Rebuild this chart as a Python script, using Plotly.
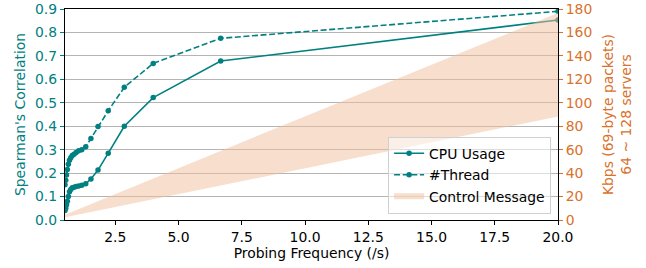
import plotly.graph_objects as go

# Probing frequency (/s)
freq = [20.0, 6.667, 4.0, 2.857, 2.222, 1.818, 1.538, 1.333, 1.176, 1.053,
        0.952, 0.870, 0.800, 0.741, 0.690, 0.645, 0.606, 0.571, 0.541, 0.513]
# Spearman's correlation
cpu_usage = [0.853, 0.678, 0.522, 0.400, 0.285, 0.213, 0.175, 0.155, 0.148, 0.145,
             0.143, 0.140, 0.138, 0.130, 0.120, 0.100, 0.080, 0.065, 0.050, 0.040]
threads = [0.890, 0.775, 0.668, 0.566, 0.466, 0.399, 0.348, 0.312, 0.300, 0.295,
           0.288, 0.280, 0.275, 0.265, 0.255, 0.238, 0.215, 0.192, 0.170, 0.150]
# Control message bandwidth (Kbps), 64 ~ 128 servers
band_freq = [0.513, 20.0]
band_low = [2.27, 88.3]
band_high = [4.53, 176.6]

x_ticks = [2.5, 5.0, 7.5, 10.0, 12.5, 15.0, 17.5, 20.0]
y_ticks = [0.0, 0.1, 0.2, 0.3, 0.4, 0.5, 0.6, 0.7, 0.8, 0.9]
y2_ticks = [0, 20, 40, 60, 80, 100, 120, 140, 160, 180]

TEAL = "#008080"
ORANGE = "#d9712b"
FONT = "DejaVu Sans"
FS = 13.9

fig = go.Figure()

fig.add_trace(go.Scatter(x=band_freq, y=band_low, mode="lines", line=dict(width=0),
                         yaxis="y2", showlegend=False, hoverinfo="skip"))
fig.add_trace(go.Scatter(x=band_freq, y=band_high, mode="none", fill="tonexty",
                         fillcolor="rgba(240,190,155,0.5)", yaxis="y2",
                         name="Control Message", legendrank=3, legendgroup="c"))

fig.add_trace(go.Scatter(x=freq, y=cpu_usage, mode="lines+markers", name="CPU Usage",
                         line=dict(color=TEAL, width=1.6),
                         marker=dict(color=TEAL, size=5.5), legendrank=1, legendgroup="a"))
fig.add_trace(go.Scatter(x=freq, y=threads, mode="lines+markers", name="#Thread",
                         line=dict(color=TEAL, width=1.6, dash="6px,2.6px"),
                         marker=dict(color=TEAL, size=5.5), legendrank=2, legendgroup="b"))

fig.update_layout(
    width=646, height=268,
    margin=dict(l=65, r=88, t=9, b=48, autoexpand=False),
    paper_bgcolor="white", plot_bgcolor="white",
    font=dict(family=FONT, size=FS, color="black"),
    showlegend=True,
    legend=dict(x=0.986, y=0.03, xanchor="right", yanchor="bottom",
                bgcolor="rgba(255,255,255,0.55)", bordercolor="#d0d0d0", borderwidth=1,
                font=dict(family=FONT, size=FS, color="black"),
                traceorder="grouped", itemwidth=30, tracegroupgap=0.5),
    xaxis=dict(range=[0.513, 20.0], tickvals=x_ticks, ticktext=[f"{v:.1f}" for v in x_ticks],
               ticks="outside", ticklen=4, tickcolor="black", showgrid=False,
               showline=True, linecolor="black", linewidth=1.3, mirror=True,
               zeroline=False, automargin=False,
               title=dict(text="Probing Frequency (/s)", font=dict(size=FS), standoff=3),
               tickfont=dict(size=FS, color="black")),
    yaxis=dict(range=[0, 0.9], tickvals=y_ticks, ticktext=[f"{v:.1f}" for v in y_ticks],
               ticks="outside", ticklen=4, tickcolor=TEAL,
               showgrid=True, gridcolor="#b4b4b4", gridwidth=1,
               showline=True, linecolor="black", linewidth=1.3, mirror=True,
               zeroline=False, automargin=False,
               title=dict(text="Spearman's Correlation", font=dict(size=FS, color=TEAL), standoff=6),
               tickfont=dict(size=FS, color=TEAL)),
    yaxis2=dict(range=[0, 180], tickvals=y2_ticks, overlaying="y", side="right",
                ticks="outside", ticklen=4, tickcolor=ORANGE, showgrid=False,
                zeroline=False, showline=False, automargin=False,
                title=dict(text="Kbps (69-byte packets)<br>64 ~ 128 servers",
                           font=dict(size=FS, color=ORANGE), standoff=11),
                tickfont=dict(size=FS, color=ORANGE)),
)

# remove the browser's default 8px body margin so the figure sits at (0, 0)
fig.write_html("out.html", config={"displayModeBar": False},
               post_script="document.body.style.margin='0';")
